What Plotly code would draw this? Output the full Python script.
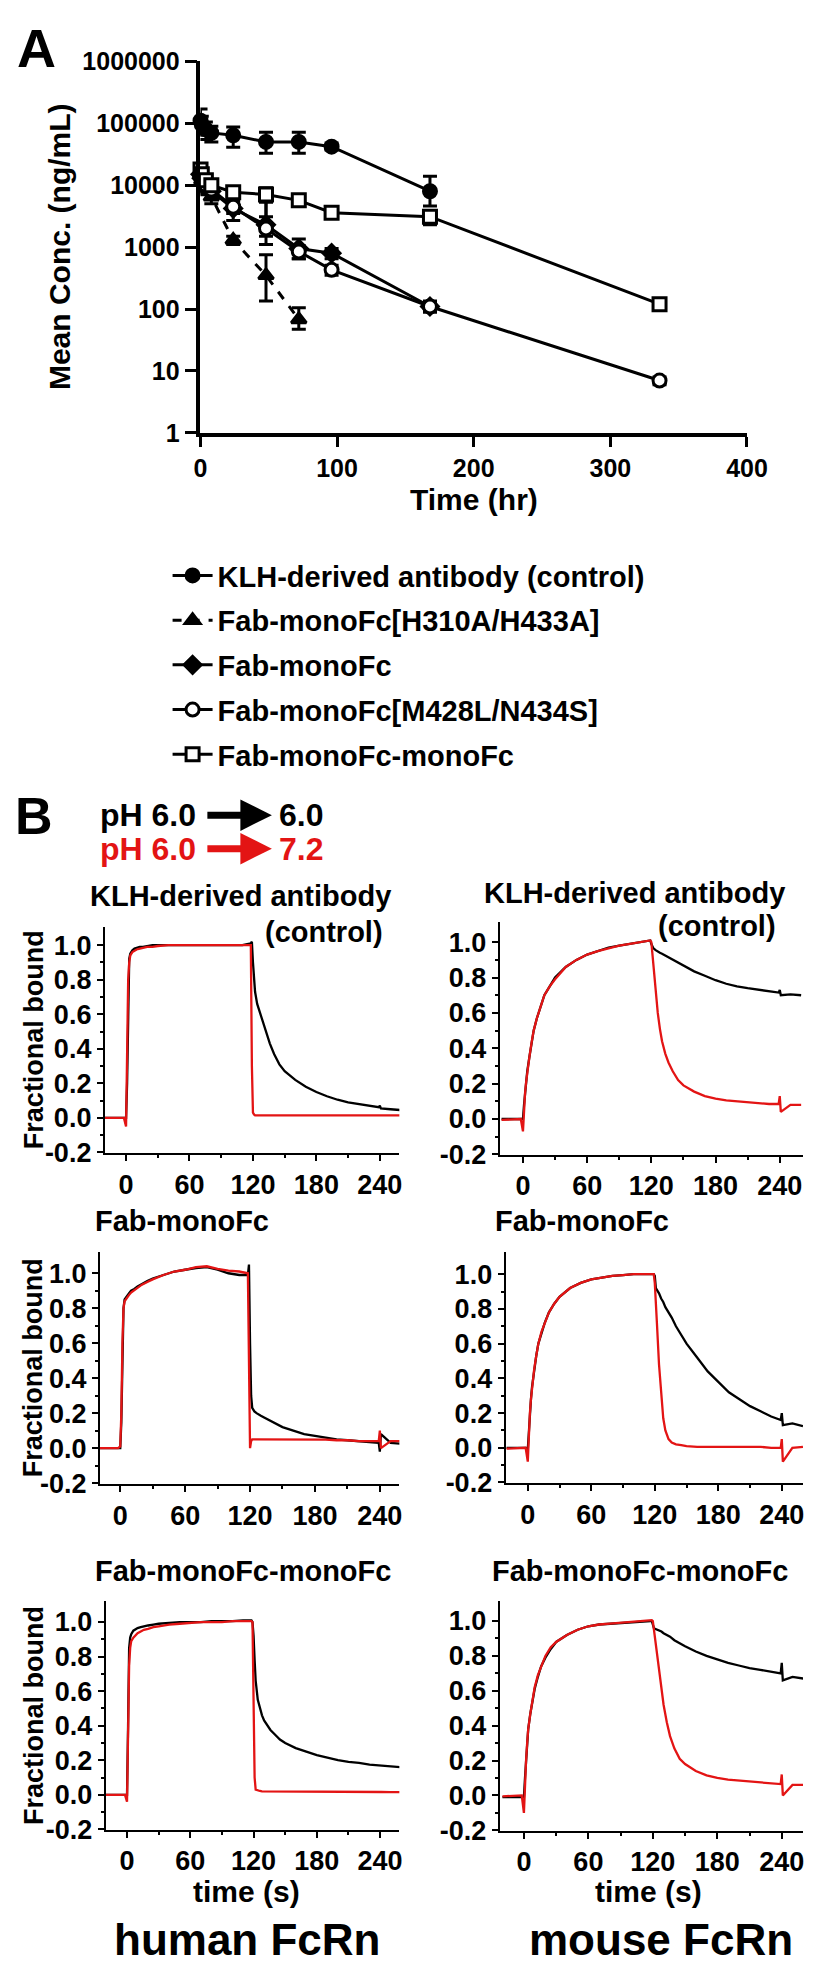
import plotly.graph_objects as go

W, H = 816, 1972
def fx(p): return p / W
def fy(p): return 1 - p / H

FONT = "Liberation Sans, Arial, Helvetica, sans-serif"
RED = "#e31414"

# ---------------- Panel A: PK data (ng/mL vs hr) ----------------
klh_time = [0.083, 1, 4, 8, 24, 48, 72, 96, 168]
klh_conc = [110000, 95000, 80000, 70000, 64000, 50000, 50000, 42000, 8000]
klh_err_up = [60000, 35000, 25000, 20000, 23000, 22000, 22000, 6000, 6000]
klh_err_dn = [45000, 30000, 25000, 20000, 23000, 17000, 17000, 5000, 3400]

h310a_time = [0.083, 1, 4, 8, 24, 48, 72]
h310a_conc = [16000, 12000, 9000, 6500, 1300, 350, 68]
h310a_err_up = [4000, 3000, 2000, 1500, 200, 400, 37]
h310a_err_dn = [4000, 3000, 2000, 1500, 200, 215, 21]

mono_time = [0.083, 1, 4, 8, 24, 48, 72, 96, 168]
mono_conc = [15000, 13000, 10000, 8000, 4200, 2300, 950, 800, 110]
mono_err_up = [4000, 3000, 2500, 2000, 3000, 3000, 400, 150, 25]
mono_err_dn = [4000, 3000, 2500, 2000, 1500, 1200, 300, 150, 20]

ml_time = [0.083, 1, 4, 8, 24, 48, 72, 96, 168, 336]
ml_conc = [14000, 12000, 10000, 8500, 4500, 2000, 850, 430, 110, 7]
ml_err_up = [3000, 2500, 2000, 1500, 1000, 500, 200, 80, 20, 1]
ml_err_dn = [3000, 2500, 2000, 1500, 1000, 500, 200, 80, 20, 1]

dimer_time = [0.083, 1, 4, 8, 24, 48, 72, 96, 168, 336]
dimer_conc = [18000, 15000, 12000, 10000, 7700, 7100, 5700, 3600, 3100, 120]
dimer_err_up = [4000, 3000, 2500, 2000, 1500, 2000, 1000, 600, 800, 20]
dimer_err_dn = [4000, 3000, 2500, 2000, 1500, 4000, 1000, 600, 800, 20]

pk_names = ["KLH-derived antibody (control)", "Fab-monoFc[H310A/H433A]",
            "Fab-monoFc", "Fab-monoFc[M428L/N434S]", "Fab-monoFc-monoFc"]
pk_x_ticks = [0, 100, 200, 300, 400]
pk_y_ticks = [1, 10, 100, 1000, 10000, 100000, 1000000]
pk_y_labels = ["1", "10", "100", "1000", "10000", "100000", "1000000"]

# ---------------- Panel B: sensorgrams (fractional bound vs s) ----------------
t_s = [-20, -10, -2, 0,
       1, 2, 3, 4, 6, 8, 10, 13, 16, 20,
       25, 30, 40, 50, 60, 70, 80, 90, 100, 110,
       118, 119, 120, 121, 122, 124, 126, 128, 130, 133,
       136, 140, 145, 150, 160, 170, 180, 190, 200, 210,
       220, 230, 239, 240, 241, 250, 260]

klh_h_black = [0.0, 0.0, 0.0, 0.0,
               0.20, 0.75, 0.92, 0.95, 0.97, 0.98, 0.985, 0.99, 0.99, 0.995,
               1.0, 1.0, 1.0, 1.0, 1.0, 1.0, 1.0, 1.0, 1.0, 1.0,
               1.01, 1.02, 0.90, 0.80, 0.73, 0.66, 0.62, 0.58, 0.54, 0.48,
               0.43, 0.37, 0.31, 0.27, 0.22, 0.18, 0.15, 0.125, 0.105, 0.09,
               0.08, 0.07, 0.062, 0.07, 0.055, 0.05, 0.045]
klh_h_red = [0.0, 0.0, 0.0, -0.05,
             0.30, 0.80, 0.90, 0.94, 0.96, 0.97, 0.975, 0.98, 0.985, 0.99,
             0.99, 0.995, 1.0, 1.0, 1.0, 1.0, 1.0, 1.0, 1.0, 1.0,
             1.0, 0.30, 0.03, 0.02, 0.015, 0.015, 0.015, 0.015, 0.015, 0.015,
             0.015, 0.015, 0.015, 0.015, 0.015, 0.015, 0.015, 0.015, 0.015, 0.015,
             0.015, 0.015, 0.015, 0.015, 0.015, 0.015, 0.015]

klh_m_black = [0.0, 0.0, 0.0, 0.0,
               0.08, 0.15, 0.21, 0.27, 0.35, 0.43, 0.50, 0.57, 0.63, 0.70,
               0.75, 0.80, 0.86, 0.90, 0.93, 0.95, 0.97, 0.98, 0.99, 1.0,
               1.005, 1.01, 0.99, 0.975, 0.965, 0.955, 0.945, 0.94, 0.935, 0.925,
               0.915, 0.90, 0.885, 0.865, 0.835, 0.81, 0.785, 0.765, 0.75, 0.74,
               0.73, 0.72, 0.715, 0.73, 0.70, 0.705, 0.70]
klh_m_red = [-0.005, 0.0, 0.0, -0.07,
             0.08, 0.15, 0.21, 0.27, 0.35, 0.43, 0.50, 0.57, 0.63, 0.70,
             0.75, 0.79, 0.86, 0.90, 0.93, 0.95, 0.965, 0.98, 0.99, 1.0,
             1.005, 1.01, 1.0, 0.93, 0.85, 0.72, 0.60, 0.51, 0.44, 0.37,
             0.32, 0.27, 0.22, 0.19, 0.155, 0.13, 0.115, 0.105, 0.10, 0.095,
             0.09, 0.085, 0.085, 0.13, 0.04, 0.08, 0.08]

mono_h_black = [0.0, 0.0, 0.0, 0.0,
                0.15, 0.55, 0.80, 0.85, 0.87, 0.885, 0.90, 0.91, 0.925, 0.94,
                0.955, 0.97, 0.99, 1.01, 1.02, 1.03, 1.035, 1.02, 1.0, 0.99,
                0.99, 1.05, 0.60, 0.30, 0.23, 0.21, 0.20, 0.19, 0.185, 0.175,
                0.165, 0.15, 0.135, 0.12, 0.10, 0.08, 0.07, 0.06, 0.05, 0.045,
                0.04, 0.035, 0.03, -0.02, 0.08, 0.03, 0.025]
mono_h_red = [0.0, 0.0, 0.0, 0.01,
              0.20, 0.60, 0.80, 0.84, 0.86, 0.875, 0.89, 0.905, 0.92, 0.935,
              0.95, 0.965, 0.99, 1.01, 1.02, 1.035, 1.04, 1.025, 1.015, 1.01,
              1.0, 0.50, 0.0, 0.04, 0.05, 0.05, 0.05, 0.05, 0.05, 0.05,
              0.05, 0.05, 0.05, 0.05, 0.05, 0.05, 0.05, 0.048, 0.045, 0.045,
              0.04, 0.04, 0.04, 0.10, 0.0, 0.04, 0.04]

mono_m_black = [0.0, 0.0, 0.0, -0.01,
                0.10, 0.20, 0.28, 0.35, 0.45, 0.53, 0.60, 0.66, 0.72, 0.78,
                0.83, 0.87, 0.92, 0.95, 0.97, 0.98, 0.99, 0.995, 1.0, 1.0,
                1.0, 1.0, 0.99, 0.92, 0.91, 0.89, 0.86, 0.84, 0.81, 0.78,
                0.75, 0.70, 0.65, 0.60, 0.52, 0.44, 0.38, 0.32, 0.28, 0.24,
                0.21, 0.18, 0.16, 0.20, 0.13, 0.14, 0.125]
mono_m_red = [-0.005, 0.0, 0.0, -0.08,
              0.10, 0.20, 0.28, 0.35, 0.45, 0.53, 0.60, 0.67, 0.72, 0.78,
              0.83, 0.87, 0.92, 0.95, 0.97, 0.98, 0.99, 0.995, 1.0, 1.0,
              1.0, 1.0, 0.95, 0.85, 0.72, 0.48, 0.30, 0.17, 0.10, 0.05,
              0.03, 0.02, 0.015, 0.01, 0.005, 0.005, 0.005, 0.005, 0.005, 0.005,
              0.005, 0.0, 0.0, 0.05, -0.08, 0.0, 0.005]

dimer_h_black = [0.0, 0.0, 0.0, 0.0,
                 0.40, 0.85, 0.91, 0.93, 0.95, 0.96, 0.965, 0.97, 0.975, 0.98,
                 0.985, 0.99, 0.995, 1.0, 1.0, 1.0, 1.005, 1.005, 1.005, 1.01,
                 1.01, 1.0, 0.92, 0.78, 0.66, 0.55, 0.50, 0.46, 0.43, 0.40,
                 0.375, 0.35, 0.32, 0.30, 0.27, 0.25, 0.23, 0.215, 0.20, 0.19,
                 0.185, 0.175, 0.17, 0.17, 0.17, 0.165, 0.16]
dimer_h_red = [0.0, 0.0, 0.0, -0.04,
               0.30, 0.75, 0.85, 0.89, 0.91, 0.925, 0.935, 0.945, 0.955, 0.96,
               0.97, 0.975, 0.985, 0.99, 0.995, 1.0, 1.0, 1.0, 1.005, 1.005,
               1.005, 1.0, 0.50, 0.10, 0.03, 0.025, 0.022, 0.02, 0.02, 0.02,
               0.02, 0.02, 0.02, 0.02, 0.02, 0.018, 0.018, 0.018, 0.017, 0.017,
               0.016, 0.016, 0.016, 0.016, 0.016, 0.015, 0.015]

dimer_m_black = [-0.01, -0.01, -0.01, -0.01,
                 0.10, 0.20, 0.30, 0.38, 0.47, 0.55, 0.61, 0.68, 0.74, 0.79,
                 0.84, 0.88, 0.92, 0.95, 0.97, 0.98, 0.985, 0.99, 0.995, 1.0,
                 1.0, 1.0, 0.97, 0.96, 0.955, 0.95, 0.945, 0.94, 0.93, 0.92,
                 0.91, 0.89, 0.87, 0.855, 0.825, 0.80, 0.78, 0.76, 0.745, 0.73,
                 0.72, 0.71, 0.70, 0.76, 0.66, 0.68, 0.67]
dimer_m_red = [-0.005, 0.0, 0.0, -0.10,
               0.10, 0.20, 0.30, 0.38, 0.47, 0.55, 0.62, 0.69, 0.74, 0.80,
               0.85, 0.88, 0.92, 0.95, 0.97, 0.98, 0.985, 0.99, 0.995, 1.0,
               1.005, 1.005, 1.0, 0.95, 0.90, 0.80, 0.70, 0.60, 0.52, 0.42,
               0.34, 0.27, 0.21, 0.18, 0.14, 0.115, 0.10, 0.09, 0.085, 0.08,
               0.075, 0.07, 0.065, 0.12, 0.0, 0.06, 0.06]

b_x_ticks = [0, 60, 120, 180, 240]
b_x_minor = [30, 90, 150, 210]
b_y_ticks = [-0.2, 0.0, 0.2, 0.4, 0.6, 0.8, 1.0]
b_y_labels = ["-0.2", "0.0", "0.2", "0.4", "0.6", "0.8", "1.0"]
b_y_minor = [-0.1, 0.1, 0.3, 0.5, 0.7, 0.9]

fig = go.Figure()

# ---------------- Panel A traces ----------------
pk_series = [
    (klh_time, klh_conc, klh_err_up, klh_err_dn, "circle", "black", "solid"),
    (h310a_time, h310a_conc, h310a_err_up, h310a_err_dn, "triangle-up", "black", "dash"),
    (mono_time, mono_conc, mono_err_up, mono_err_dn, "diamond", "black", "solid"),
    (ml_time, ml_conc, ml_err_up, ml_err_dn, "circle", "white", "solid"),
    (dimer_time, dimer_conc, dimer_err_up, dimer_err_dn, "square", "white", "solid"),
]
for i, (name, (tx, cy, eu, ed, sym, fill, dash)) in enumerate(zip(pk_names, pk_series)):
    fig.add_trace(go.Scatter(
        x=tx, y=cy, name=name, mode="lines+markers", legendgroup=f"g{i}",
        line=dict(color="black", width=3, dash=dash),
        marker=dict(symbol=sym, size=13, color=fill, line=dict(color="black", width=3)),
        error_y=dict(type="data", symmetric=False, array=eu, arrayminus=ed,
                     color="black", thickness=3, width=7),
        cliponaxis=False, xaxis="x", yaxis="y", showlegend=True))

# ---------------- Panel B traces ----------------
b_curves = [klh_h_black, klh_h_red, klh_m_black, klh_m_red,
            mono_h_black, mono_h_red, mono_m_black, mono_m_red,
            dimer_h_black, dimer_h_red, dimer_m_black, dimer_m_red]
for k in range(6):
    ax = k + 2
    for j, col in enumerate(["black", RED]):
        fig.add_trace(go.Scatter(
            x=t_s, y=b_curves[2 * k + j], mode="lines",
            line=dict(color=col, width=2.3), showlegend=False,
            xaxis=f"x{ax}", yaxis=f"y{ax}", hoverinfo="skip"))

layout = dict(
    width=W, height=H, margin=dict(l=0, r=0, t=0, b=0),
    paper_bgcolor="white", plot_bgcolor="white",
    font=dict(family=FONT, color="black", weight="bold"),
    showlegend=True,
    legend=dict(x=fx(158), y=fy(536), xanchor="left", yanchor="top",
                font=dict(size=29, color="black", family=FONT, weight="bold"),
                bgcolor="rgba(0,0,0,0)", itemwidth=40, tracegroupgap=4),
)

# Panel A axes
layout["xaxis"] = dict(domain=[fx(192), fx(758)], range=[0, 400], anchor="y",
                       showline=True, linecolor="black", linewidth=3.5,
                       ticks="outside", ticklen=10, tickwidth=3, tickcolor="black",
                       tickvals=pk_x_ticks, showgrid=False, zeroline=False,
                       tickfont=dict(size=25, family=FONT, weight="bold"))
layout["yaxis"] = dict(domain=[fy(417), fy(40)], type="log", range=[0, 6], anchor="x",
                       showline=True, linecolor="black", linewidth=3.5,
                       ticks="outside", ticklen=12, tickwidth=3, tickcolor="black",
                       tickvals=pk_y_ticks, ticktext=pk_y_labels,
                       showgrid=False, zeroline=False,
                       tickfont=dict(size=25, family=FONT, weight="bold"))

# Panel B axes geometry (pixels): y-axis line, t=0 position, px per s, right end,
# y of 1.0, y of 0.0, bottom (-0.2), top
b_geom = [
    (93, 115, 1.095, 398, 937, 1113, 1148, 918),
    (502, 526, 1.108, 816, 934, 1114, 1150, 913),
    (88, 109, 1.12, 398, 1270, 1448, 1484, 1248),
    (508, 531, 1.096, 816, 1271, 1448, 1483, 1248),
    (94, 116, 1.092, 398, 1624, 1800, 1835, 1603),
    (502, 527, 1.1125, 816, 1623, 1801, 1836, 1603),
]
for k, (axp, t0p, pps, endp, y1p, y0p, botp, topp) in enumerate(b_geom):
    ax = k + 2
    unit = y0p - y1p
    ylo = min((y0p - botp) / unit, -0.2) - 0.004
    layout[f"xaxis{ax}"] = dict(
        domain=[fx(axp), fx(endp)], range=[(axp - t0p) / pps, (endp - t0p) / pps],
        anchor=f"y{ax}", showline=True, linecolor="black", linewidth=2,
        ticks="outside", ticklen=6, tickwidth=2, tickcolor="black",
        tickvals=b_x_ticks, showgrid=False, zeroline=False,
        minor=dict(tickvals=b_x_minor, ticks="outside", ticklen=3, tickwidth=1.5,
                   tickcolor="black", showgrid=False),
        tickfont=dict(size=27, family=FONT, weight="bold"))
    layout[f"yaxis{ax}"] = dict(
        domain=[fy(botp), fy(topp)], range=[ylo, (y0p - topp) / unit],
        anchor=f"x{ax}", showline=True, linecolor="black", linewidth=2,
        ticks="outside", ticklen=6, tickwidth=2, tickcolor="black",
        tickvals=b_y_ticks, ticktext=b_y_labels, showgrid=False, zeroline=False,
        minor=dict(tickvals=b_y_minor, ticks="outside", ticklen=3, tickwidth=1.5,
                   tickcolor="black", showgrid=False),
        tickfont=dict(size=27, family=FONT, weight="bold"))

fig.update_layout(**layout)

def note(text, x, y, size, color="black", xanchor="center", angle=0):
    fig.add_annotation(text=text, x=fx(x), y=fy(y), xref="paper", yref="paper",
                       xanchor=xanchor, yanchor="middle", showarrow=False,
                       textangle=angle,
                       font=dict(size=size, color=color, family=FONT, weight="bold"))

# Panel A text
note("A", 22, 26, 54)
note("Mean Conc. (ng/mL)", 46, 228, 30, angle=-90)
note("Time (hr)", 475, 485, 30)

# Panel B header
note("B", 20, 806, 52)
note("pH 6.0", 86, 805, 32, xanchor="left")
note("6.0", 271, 805, 32, xanchor="left")
note("pH 6.0", 86, 839, 32, color=RED, xanchor="left")
note("7.2", 271, 839, 32, color=RED, xanchor="left")
for yy, col in [(805, "black"), (839, RED)]:
    fig.add_annotation(text="", x=fx(266), y=fy(yy), xref="paper", yref="paper",
                       ax=-66, ay=0, showarrow=True, arrowhead=2, arrowsize=0.9,
                       arrowwidth=7, arrowcolor=col, standoff=0, startstandoff=0)

# Panel B titles
note("KLH-derived antibody", 233, 887, 29)
note("(control)", 383, 924, 29, xanchor="right")
note("KLH-derived antibody", 642, 884, 29)
note("(control)", 790, 918, 29, xanchor="right")
note("Fab-monoFc", 81, 1217, 29, xanchor="left")
note("Fab-monoFc", 495, 1217, 29, xanchor="left")
note("Fab-monoFc-monoFc", 81, 1572, 29, xanchor="left")
note("Fab-monoFc-monoFc", 492, 1572, 29, xanchor="left")

for yc in [1033, 1366, 1719]:
    note("Fractional bound", 19, yc, 27, angle=-90)

note("time (s)", 240, 1897, 30)
note("time (s)", 656, 1897, 30)
note("human FcRn", 240, 1946, 44)
note("mouse FcRn", 669, 1946, 44)

fig.write_html("out.html")
